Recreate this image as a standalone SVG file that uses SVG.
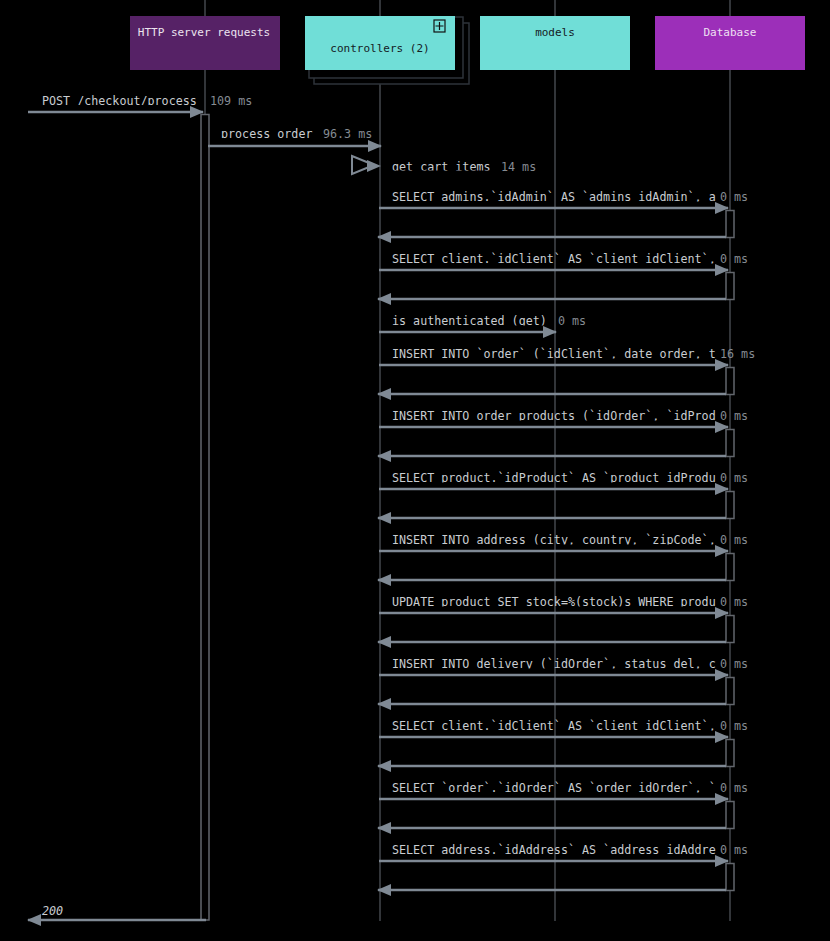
<svg xmlns="http://www.w3.org/2000/svg" width="830" height="941" viewBox="0 0 830 941">
<style>
text{font-family:"DejaVu Sans Mono","Liberation Mono",monospace;font-size:11.7px}
.box{font-size:11px}
.lbl{fill:#c9cdd1}
.dur{fill:#858b92}
.life{stroke:#43474d;stroke-width:1.5;fill:none}
.msg{stroke:#7f8994;stroke-width:2.7;fill:none}
.head{fill:#7f8994}
.act{stroke:#62666c;stroke-width:1.5;fill:#000}
.shadow{stroke:#2e333a;stroke-width:1.5;fill:#000}
</style>
<defs>
<marker id="ah" viewBox="0 0 14 12" refX="13" refY="6" markerWidth="14" markerHeight="12" markerUnits="userSpaceOnUse" orient="auto"><path d="M0,0 L14,6 L0,12 Z" fill="#7f8994"/></marker>
<clipPath id="cw"><rect x="380" y="0" width="336" height="941"/></clipPath>
<clipPath id="c1"><rect x="30" y="90" width="180" height="15"/></clipPath>
<clipPath id="c2"><rect x="215" y="124" width="105" height="14"/></clipPath>
<clipPath id="c3"><rect x="385" y="156" width="110" height="14.5"/></clipPath>
<clipPath id="r1"><rect x="385" y="188" width="331" height="13.5"/></clipPath>
<clipPath id="r2"><rect x="385" y="250" width="331" height="13.5"/></clipPath>
<clipPath id="r3"><rect x="385" y="312" width="160" height="13.5"/></clipPath>
<clipPath id="r4"><rect x="385" y="345" width="331" height="13.5"/></clipPath>
<clipPath id="r5"><rect x="385" y="407" width="331" height="13.5"/></clipPath>
<clipPath id="r6"><rect x="385" y="469" width="331" height="13.5"/></clipPath>
<clipPath id="r7"><rect x="385" y="531" width="331" height="13.5"/></clipPath>
<clipPath id="r8"><rect x="385" y="593" width="331" height="13.5"/></clipPath>
<clipPath id="r9"><rect x="385" y="655" width="331" height="13.5"/></clipPath>
<clipPath id="r10"><rect x="385" y="717" width="331" height="13.5"/></clipPath>
<clipPath id="r11"><rect x="385" y="779" width="331" height="13.5"/></clipPath>
<clipPath id="r12"><rect x="385" y="841" width="331" height="13.5"/></clipPath>
</defs>
<rect width="830" height="941" fill="#000"/>
<g id="lifelines">
<line class="life" x1="205" y1="0" x2="205" y2="921"/>
<line class="life" x1="380" y1="0" x2="380" y2="921"/>
<line class="life" x1="555" y1="0" x2="555" y2="921"/>
<line class="life" x1="730" y1="0" x2="730" y2="921"/>
</g>
<g id="node-http">
<rect x="130" y="16" width="150" height="54" fill="#562266"/>
<text class="box" x="204" y="36" text-anchor="middle" fill="#ece4ef">HTTP server requests</text>
</g>
<g id="node-controllers">
<rect class="shadow" x="314" y="23" width="155" height="61"/>
<rect class="shadow" x="309" y="17" width="154" height="61"/>
<rect x="305" y="16" width="150" height="54" fill="#70ded7"/>
<rect x="434" y="20" width="11" height="12" fill="none" stroke="#111" stroke-width="1.2"/>
<path d="M439.5,22 V30 M435.5,26 H443.5" stroke="#111" stroke-width="1.2"/>
<text class="box" x="380" y="52" text-anchor="middle" fill="#14201f">controllers (2)</text>
</g>
<g id="node-models">
<rect x="480" y="16" width="150" height="54" fill="#70ded7"/>
<text class="box" x="555" y="36" text-anchor="middle" fill="#14201f">models</text>
</g>
<g id="node-database">
<rect x="655" y="16" width="150" height="54" fill="#9c2fb9"/>
<text class="box" x="730" y="36" text-anchor="middle" fill="#efe0f3">Database</text>
</g>
<g id="activations">
<rect class="act" x="201" y="114.5" width="8" height="805.5"/>
<rect class="act" x="726" y="210.5" width="8" height="27"/>
<rect class="act" x="726" y="272.5" width="8" height="27"/>
<rect class="act" x="726" y="367.5" width="8" height="27"/>
<rect class="act" x="726" y="429.5" width="8" height="27"/>
<rect class="act" x="726" y="491.5" width="8" height="27"/>
<rect class="act" x="726" y="553.5" width="8" height="27"/>
<rect class="act" x="726" y="615.5" width="8" height="27"/>
<rect class="act" x="726" y="677.5" width="8" height="27"/>
<rect class="act" x="726" y="739.5" width="8" height="27"/>
<rect class="act" x="726" y="801.5" width="8" height="27"/>
<rect class="act" x="726" y="863.5" width="8" height="27"/>
</g>
<g id="connectors">
<line class="msg" x1="28" y1="112" x2="203" y2="112" marker-end="url(#ah)"/>
<line class="msg" x1="208" y1="146" x2="381" y2="146" marker-end="url(#ah)"/>
<polygon points="352,156 374,165 352,174" fill="none" stroke="#7f8994" stroke-width="2"/>
<polygon class="head" points="367,160 381,166 367,172"/>
<line class="msg" x1="379" y1="208" x2="728" y2="208" marker-end="url(#ah)"/>
<line class="msg" x1="726" y1="237" x2="378" y2="237" marker-end="url(#ah)"/>
<line class="msg" x1="379" y1="270" x2="728" y2="270" marker-end="url(#ah)"/>
<line class="msg" x1="726" y1="299" x2="378" y2="299" marker-end="url(#ah)"/>
<line class="msg" x1="379" y1="332" x2="556" y2="332" marker-end="url(#ah)"/>
<line class="msg" x1="379" y1="365" x2="728" y2="365" marker-end="url(#ah)"/>
<line class="msg" x1="726" y1="394" x2="378" y2="394" marker-end="url(#ah)"/>
<line class="msg" x1="379" y1="427" x2="728" y2="427" marker-end="url(#ah)"/>
<line class="msg" x1="726" y1="456" x2="378" y2="456" marker-end="url(#ah)"/>
<line class="msg" x1="379" y1="489" x2="728" y2="489" marker-end="url(#ah)"/>
<line class="msg" x1="726" y1="518" x2="378" y2="518" marker-end="url(#ah)"/>
<line class="msg" x1="379" y1="551" x2="728" y2="551" marker-end="url(#ah)"/>
<line class="msg" x1="726" y1="580" x2="378" y2="580" marker-end="url(#ah)"/>
<line class="msg" x1="379" y1="613" x2="728" y2="613" marker-end="url(#ah)"/>
<line class="msg" x1="726" y1="642" x2="378" y2="642" marker-end="url(#ah)"/>
<line class="msg" x1="379" y1="675" x2="728" y2="675" marker-end="url(#ah)"/>
<line class="msg" x1="726" y1="704" x2="378" y2="704" marker-end="url(#ah)"/>
<line class="msg" x1="379" y1="737" x2="728" y2="737" marker-end="url(#ah)"/>
<line class="msg" x1="726" y1="766" x2="378" y2="766" marker-end="url(#ah)"/>
<line class="msg" x1="379" y1="799" x2="728" y2="799" marker-end="url(#ah)"/>
<line class="msg" x1="726" y1="828" x2="378" y2="828" marker-end="url(#ah)"/>
<line class="msg" x1="379" y1="861" x2="728" y2="861" marker-end="url(#ah)"/>
<line class="msg" x1="726" y1="890" x2="378" y2="890" marker-end="url(#ah)"/>
<line class="msg" x1="206" y1="920" x2="28" y2="920" marker-end="url(#ah)"/>
</g>
<g id="labels">
<text class="lbl" x="42" y="104.5" clip-path="url(#c1)">POST /checkout/process</text>
<text class="dur" x="210" y="104.5">109 ms</text>
<text class="lbl" x="221" y="137.5" clip-path="url(#c2)">process_order</text>
<text class="dur" x="323" y="137.5">96.3 ms</text>
<text class="lbl" x="392" y="170.5" clip-path="url(#c3)">get_cart_items</text>
<text class="dur" x="501" y="170.5">14 ms</text>
<g clip-path="url(#cw)">
<text class="lbl" x="392" y="201" clip-path="url(#r1)">SELECT admins.`idAdmin` AS `admins_idAdmin`, a</text>
<text class="lbl" x="392" y="263" clip-path="url(#r2)">SELECT client.`idClient` AS `client_idClient`,</text>
<text class="lbl" x="392" y="325" clip-path="url(#r3)">is_authenticated (get)</text>
<text class="lbl" x="392" y="358" clip-path="url(#r4)">INSERT INTO `order` (`idClient`, date_order, t</text>
<text class="lbl" x="392" y="420" clip-path="url(#r5)">INSERT INTO order_products (`idOrder`, `idProd</text>
<text class="lbl" x="392" y="482" clip-path="url(#r6)">SELECT product.`idProduct` AS `product_idProdu</text>
<text class="lbl" x="392" y="544" clip-path="url(#r7)">INSERT INTO address (city, country, `zipCode`,</text>
<text class="lbl" x="392" y="606" clip-path="url(#r8)">UPDATE product SET stock=%(stock)s WHERE produ</text>
<text class="lbl" x="392" y="668" clip-path="url(#r9)">INSERT INTO delivery (`idOrder`, status_del, c</text>
<text class="lbl" x="392" y="730" clip-path="url(#r10)">SELECT client.`idClient` AS `client_idClient`,</text>
<text class="lbl" x="392" y="792" clip-path="url(#r11)">SELECT `order`.`idOrder` AS `order_idOrder`, `</text>
<text class="lbl" x="392" y="854" clip-path="url(#r12)">SELECT address.`idAddress` AS `address_idAddre</text>
</g>
<text class="dur" x="558" y="325">0 ms</text>
<text class="dur" x="720" y="201">0 ms</text>
<text class="dur" x="720" y="263">0 ms</text>
<text class="dur" x="720" y="358">16 ms</text>
<text class="dur" x="720" y="420">0 ms</text>
<text class="dur" x="720" y="482">0 ms</text>
<text class="dur" x="720" y="544">0 ms</text>
<text class="dur" x="720" y="606">0 ms</text>
<text class="dur" x="720" y="668">0 ms</text>
<text class="dur" x="720" y="730">0 ms</text>
<text class="dur" x="720" y="792">0 ms</text>
<text class="dur" x="720" y="854">0 ms</text>
<text class="lbl" x="42" y="915" font-style="italic">200</text>
</g>
</svg>
